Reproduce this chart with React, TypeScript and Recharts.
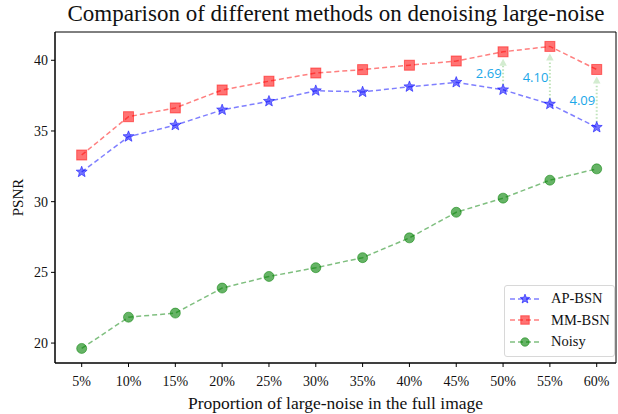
import { LineChart, Line, XAxis, YAxis, ReferenceLine, ReferenceArea } from 'recharts';

const proportions = [5, 10, 15, 20, 25, 30, 35, 40, 45, 50, 55, 60];
const apBsn = [32.1, 34.6, 35.41, 36.49, 37.1, 37.85, 37.76, 38.13, 38.44, 37.91, 36.9, 35.26];
const mmBsn = [33.3, 36.01, 36.63, 37.9, 38.52, 39.1, 39.34, 39.65, 39.95, 40.6, 40.98, 39.35];
const noisy = [19.62, 21.83, 22.12, 23.89, 24.71, 25.33, 26.04, 27.44, 29.25, 30.25, 31.52, 32.32];

const yTicks = [20, 25, 30, 35, 40];
const gainAt = [50, 55, 60];
const gainLabels = ['2.69', '4.10', '4.09'];

const seriesNames = ['AP-BSN', 'MM-BSN', 'Noisy'];

const xDomain = [2.15, 62.06];
const yDomain = [18.59, 42.0];

const data = proportions.map((p, i) => ({
  p,
  ap: apBsn[i],
  mm: mmBsn[i],
  noisy: noisy[i],
}));

const serif = '"Liberation Serif", "DejaVu Serif", serif';

const starPoints = (cx: number, cy: number, ro: number, ri: number) => {
  const pts: string[] = [];
  for (let k = 0; k < 10; k++) {
    const r = k % 2 === 0 ? ro : ri;
    const a = -Math.PI / 2 + (k * Math.PI) / 5;
    pts.push(`${cx + r * Math.cos(a)},${cy + r * Math.sin(a)}`);
  }
  return pts.join(' ');
};

const Star = (props: any) => {
  const { cx, cy, index, s = 1 } = props;
  if (cx == null || cy == null) return <g key={index} />;
  return (
    <polygon
      key={index}
      points={starPoints(cx, cy, 5.8 * s, 2.5 * s)}
      fill="#0000ff"
      fillOpacity={0.55}
      stroke="#0000ff"
      strokeOpacity={0.5}
      strokeWidth={1}
    />
  );
};

const Square = (props: any) => {
  const { cx, cy, index, s = 1 } = props;
  if (cx == null || cy == null) return <g key={index} />;
  return (
    <rect
      key={index}
      x={cx - 5 * s}
      y={cy - 5 * s}
      width={10 * s}
      height={10 * s}
      fill="#ff0000"
      fillOpacity={0.55}
      stroke="#ff0000"
      strokeOpacity={0.5}
      strokeWidth={1}
    />
  );
};

const Dot = (props: any) => {
  const { cx, cy, index, s = 1 } = props;
  if (cx == null || cy == null) return <g key={index} />;
  return (
    <circle
      key={index}
      cx={cx}
      cy={cy}
      r={5 * s}
      fill="#008000"
      fillOpacity={0.6}
      stroke="#008000"
      strokeOpacity={0.5}
      strokeWidth={1}
    />
  );
};

const markers = [Star, Square, Dot];
const lineColors = ['#0000ff', '#ff0000', '#008000'];

const makeArrow = (text: string) => (props: any) => {
  const { x1, y1, y2 } = props;
  const low = Math.max(y1, y2) - 5;
  const high = Math.min(y1, y2) + 7;
  const head = 7;
  const mid = (y1 + y2) / 2;
  return (
    <g>
      <line
        x1={x1}
        x2={x1}
        y1={low}
        y2={high + head}
        stroke="#bfe3ba"
        strokeWidth={2}
        strokeDasharray="1.5 2"
      />
      <polygon
        points={`${x1 - 3.8},${high + head} ${x1 + 3.8},${high + head} ${x1},${high}`}
        fill="#d3ecd0"
      />
      <text
        x={x1 - 1.5}
        y={mid + 2}
        textAnchor="end"
        dominantBaseline="central"
        fill="#1aa7e8"
        fontSize={13}
        fontFamily='"Open Sans", "Noto Sans", sans-serif'
      >
        {text}
      </text>
    </g>
  );
};

function LegendBox() {
  return (
    <div
      style={{
        position: 'absolute',
        left: 504,
        top: 285,
        width: 111,
        height: 72,
        border: '1px solid #d8d8d8',
        borderRadius: 3,
        background: '#fff',
        boxSizing: 'border-box',
        fontFamily: serif,
        fontSize: 14.5,
        color: '#111',
      }}
    >
      {seriesNames.map((name, i) => {
        const Marker = markers[i];
        return (
          <div key={name} style={{ display: 'flex', alignItems: 'center', height: 21.5, marginTop: i === 0 ? 2 : 0 }}>
            <svg width={42} height={16} style={{ marginLeft: 4 }}>
              <line x1={1} x2={31} y1={8} y2={8} stroke={lineColors[i]} strokeOpacity={0.5} strokeWidth={1.5} strokeDasharray="5 3" />
              <Marker cx={16} cy={8} index={0} s={0.85} />
            </svg>
            <span>{name}</span>
          </div>
        );
      })}
    </div>
  );
}

export default function App() {
  return (
    <div style={{ position: 'absolute', left: 0, top: 0, width: 618, height: 414, background: '#fff' }}>
      <div
        style={{
          position: 'absolute',
          left: 0,
          top: 1,
          width: 672,
          textAlign: 'center',
          fontFamily: serif,
          fontSize: 23,
          color: '#111',
          whiteSpace: 'nowrap',
        }}
      >
        Comparison of different methods on denoising large-noise
      </div>
      <LineChart width={618} height={414} data={data} margin={{ top: 32, right: 2, bottom: 0, left: 0 }}>
        <XAxis
          dataKey="p"
          type="number"
          domain={xDomain}
          ticks={proportions}
          tickFormatter={(v) => `${v}%`}
          allowDataOverflow
          height={51}
          stroke="#000"
          tickSize={4}
          tickMargin={9}
          tick={{ fill: '#111', fontFamily: serif, fontSize: 14 }}
          label={{
            value: 'Proportion of large-noise in the full image',
            position: 'insideBottom',
            offset: 5,
            fill: '#111',
            fontFamily: serif,
            fontSize: 17.5,
          }}
        />
        <YAxis
          type="number"
          domain={yDomain}
          ticks={yTicks}
          allowDataOverflow
          width={55}
          stroke="#000"
          tickSize={4}
          tickMargin={3}
          tick={{ fill: '#111', fontFamily: serif, fontSize: 14 }}
          label={{
            value: 'PSNR',
            angle: -90,
            position: 'insideLeft',
            offset: 18,
            fill: '#111',
            fontFamily: serif,
            fontSize: 15,
            style: { textAnchor: 'middle' },
          }}
        />
        <ReferenceArea
          x1={xDomain[0]}
          x2={xDomain[1]}
          y1={yDomain[0]}
          y2={yDomain[1]}
          fill="none"
          stroke="#000"
          strokeWidth={1}
          ifOverflow="visible"
        />
        <Line
          dataKey="ap"
          name={seriesNames[0]}
          stroke="#0000ff"
          strokeOpacity={0.5}
          strokeWidth={1.5}
          strokeDasharray="5 3"
          dot={Star}
          activeDot={false}
          isAnimationActive={false}
        />
        <Line
          dataKey="mm"
          name={seriesNames[1]}
          stroke="#ff0000"
          strokeOpacity={0.5}
          strokeWidth={1.5}
          strokeDasharray="5 3"
          dot={Square}
          activeDot={false}
          isAnimationActive={false}
        />
        <Line
          dataKey="noisy"
          name={seriesNames[2]}
          stroke="#008000"
          strokeOpacity={0.5}
          strokeWidth={1.5}
          strokeDasharray="5 3"
          dot={Dot}
          activeDot={false}
          isAnimationActive={false}
        />
        {gainAt.map((p, i) => {
          const idx = proportions.indexOf(p);
          return (
            <ReferenceLine
              key={p}
              segment={[
                { x: p, y: apBsn[idx] },
                { x: p, y: mmBsn[idx] },
              ]}
              shape={makeArrow(gainLabels[i])}
            />
          );
        })}
      </LineChart>
      <LegendBox />
    </div>
  );
}
